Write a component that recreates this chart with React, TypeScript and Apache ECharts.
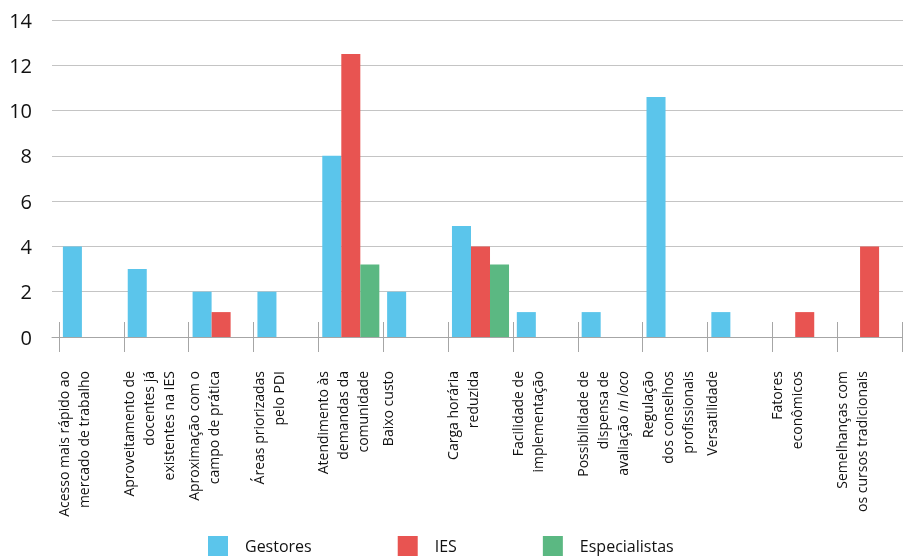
import React, { useEffect, useRef } from "react";
import * as echarts from "echarts";

const categories = [
  "Acesso mais rápido ao\nmercado de trabalho",
  "Aproveitamento de\ndocentes já\nexistentes na IES",
  "Aproximação com o\ncampo de prática",
  "Áreas priorizadas\npelo PDI",
  "Atendimento às\ndemandas da\ncomunidade",
  "Baixo custo",
  "Carga horária\nreduzida",
  "Facilidade de\nimplementação",
  "Possibilidade de\ndispensa de\navaliação {i|in loco}",
  "Regulação\ndos conselhos\nprofissionais",
  "Versatilidade",
  "Fatores\neconômicos",
  "Semelhanças com\nos cursos tradicionais",
];

const seriesNames = ["Gestores", "IES", "Especialistas"];
const gestores = [4, 3, 2, 2, 8, 2, 4.9, 1.1, 1.1, 10.6, 1.1, 0, 0];
const ies = [0, 0, 1.1, 0, 12.5, 0, 4, 0, 0, 0, 0, 1.1, 4];
const especialistas = [0, 0, 0, 0, 3.2, 0, 3.2, 0, 0, 0, 0, 0, 0];
const colors = ["#5BC5EB", "#E85451", "#5BB882"];

const yMin = 0;
const yMax = 14;
const yInterval = 2;

const FONT = "'Open Sans', sans-serif";

export default function App() {
  const ref = useRef<HTMLDivElement>(null);
  useEffect(() => {
    if (!ref.current) return;
    const chart = echarts.init(ref.current, null, { renderer: "svg" });
    const labelAxisData = [...categories, ""];
    const tickOnly = new Array(categories.length + 1).fill("");
    chart.setOption({
      animation: false,
      textStyle: { fontFamily: FONT },
      color: colors,
      grid: [
        { left: 59, right: 1, top: 20, bottom: 221 },
        { left: 52, right: 0, top: 20, bottom: 221 },
        { left: 53.5, right: 6.5, top: 20, bottom: 221 },
      ],
      legend: {
        data: seriesNames,
        left: 203,
        top: 531,
        itemWidth: 20,
        itemHeight: 20,
        itemGap: 86,
        icon: "rect",
        textStyle: {
          fontFamily: FONT,
          fontSize: 16,
          color: "#111",
          padding: [0, 0, 0, 12],
        },
      },
      xAxis: [
        {
          type: "category",
          gridIndex: 0,
          data: categories,
          boundaryGap: true,
          axisLine: { show: false },
          axisTick: {
            show: true,
            inside: true,
            length: 15,
            interval: 0,
            lineStyle: { color: "#a6a6a6" },
          },
          axisLabel: { show: false },
        },
        {
          type: "category",
          gridIndex: 0,
          position: "bottom",
          data: tickOnly,
          boundaryGap: false,
          axisLine: { show: false },
          axisTick: {
            show: true,
            inside: false,
            length: 15,
            interval: 0,
            lineStyle: { color: "#a6a6a6" },
          },
          axisLabel: { show: false },
        },
        {
          type: "value",
          gridIndex: 1,
          min: 0,
          max: 1,
          axisLine: { show: true, lineStyle: { color: "#a6a6a6" } },
          axisTick: { show: false },
          axisLabel: { show: false },
          splitLine: { show: false },
        },
        {
          type: "category",
          gridIndex: 2,
          position: "bottom",
          data: labelAxisData,
          boundaryGap: false,
          axisLine: { show: false },
          axisTick: { show: false },
          axisLabel: {
            show: true,
            interval: 0,
            rotate: 90,
            align: "right",
            verticalAlign: "top",
            margin: 34,
            fontFamily: FONT,
            fontSize: 14,
            lineHeight: 20,
            color: "#111",
            hideOverlap: false,
            rich: {
              i: {
                fontStyle: "italic",
                fontFamily: FONT,
                fontSize: 14,
                lineHeight: 20,
                color: "#111",
              },
            },
          },
        },
      ],
      yAxis: [
        {
          type: "value",
          gridIndex: 0,
          min: yMin,
          max: yMax,
          interval: yInterval,
          show: false,
          splitLine: { show: false },
        },
        {
          type: "value",
          gridIndex: 1,
          min: yMin,
          max: yMax,
          interval: yInterval,
          axisLine: { show: false },
          axisTick: { show: false },
          axisLabel: {
            fontFamily: FONT,
            fontSize: 20,
            color: "#111",
            margin: 20,
          },
          splitLine: { show: true, lineStyle: { color: "#c4c4c4", width: 1 } },
        },
        {
          type: "value",
          gridIndex: 2,
          min: yMin,
          max: yMax,
          show: false,
          splitLine: { show: false },
        },
      ],
      series: [
        { name: seriesNames[0], data: gestores },
        { name: seriesNames[1], data: ies },
        { name: seriesNames[2], data: especialistas },
      ].map((s) => ({
        ...s,
        type: "bar",
        xAxisIndex: 0,
        yAxisIndex: 0,
        barGap: "0%",
        barCategoryGap: "12%",
      })),
    });
    return () => chart.dispose();
  }, []);
  return (
    <div
      ref={ref}
      style={{ position: "fixed", left: 0, top: 0, width: 903, height: 558 }}
    />
  );
}
